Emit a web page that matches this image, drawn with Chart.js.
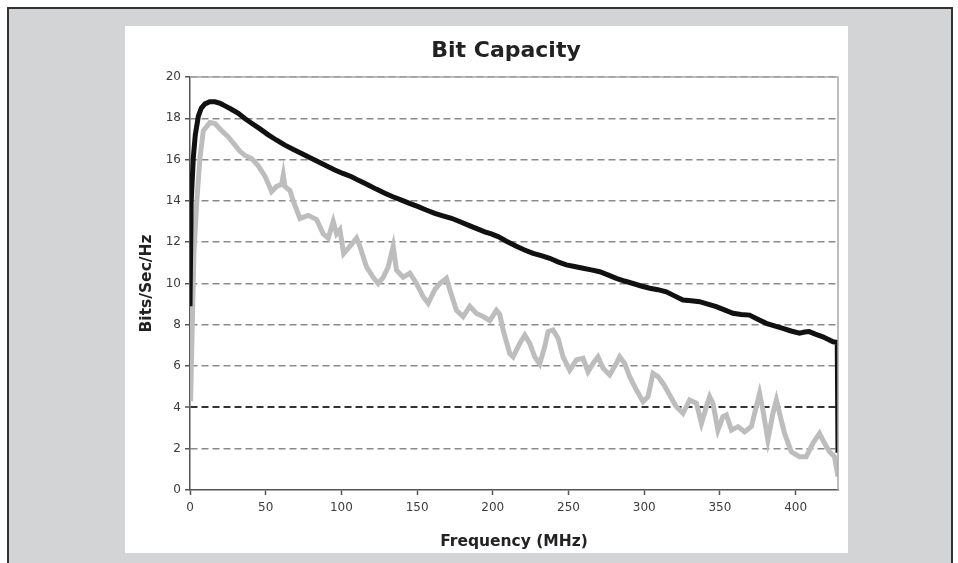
<!DOCTYPE html>
<html>
<head>
<meta charset="utf-8">
<title>Bit Capacity</title>
<script src="https://cdn.jsdelivr.net/npm/chart.js@4.4.0/dist/chart.umd.min.js"></script>
<style>
  html, body { margin: 0; padding: 0; background: #fff; }
  body { width: 958px; height: 563px; position: relative; overflow: hidden; }
  #frame {
    position: absolute; left: 7px; top: 7px; width: 942px; height: 570px;
    background: #d3d4d6; border: 2px solid #333; border-bottom: none;
  }
  #panel { position: absolute; left: 125px; top: 26px; width: 723px; height: 527px; background: #fff; }
  #chart { display: block; }
</style>
</head>
<body>
<div id="frame"></div>
<div id="panel"><canvas id="chart" width="723" height="527"></canvas></div>
<script>
// frequencies in MHz, capacity in bits/sec/Hz
const upperFreq = [0, 0.8, 2.2, 3.5, 5.5, 7.5, 9.9, 13, 16.5, 20, 23.1, 27, 31.9, 36, 40.7, 46, 51.7, 57, 62.7, 68,
  73.7, 79, 84.7, 90, 95.7, 101, 106.7, 112, 117.7, 123, 128.7, 134, 139.7, 145, 150.7, 156, 161.7, 167, 172.7, 178,
  183.7, 189, 194.7, 199, 203.5, 209, 215.6, 221, 226.6, 232, 237.6, 243, 248.6, 254, 259.6, 265, 270.6, 276, 281.6, 287,
  292.6, 298, 303.6, 309, 314.6, 320, 325.6, 331, 336.6, 342, 347.6, 353, 358.6, 364, 369.6, 375, 380.6, 386, 391.6, 397,
  402.6, 406, 409, 413, 418, 422, 424.7, 427.5, 428]
const upperBits = [8.9, 14.0, 16.1, 17.2, 18.1, 18.5, 18.7, 18.8, 18.8, 18.72, 18.6, 18.45, 18.24, 18.0, 17.76, 17.5, 17.2, 16.95, 16.7, 16.5,
  16.3, 16.1, 15.9, 15.7, 15.5, 15.33, 15.17, 14.97, 14.77, 14.57, 14.37, 14.2, 14.04, 13.88, 13.72, 13.56, 13.4, 13.28, 13.16, 13.0,
  12.83, 12.67, 12.5, 12.4, 12.27, 12.05, 11.8, 11.62, 11.46, 11.35, 11.22, 11.05, 10.9, 10.82, 10.74, 10.66, 10.57, 10.42, 10.25, 10.12,
  10.0, 9.88, 9.77, 9.7, 9.6, 9.4, 9.2, 9.16, 9.12, 9.0, 8.88, 8.72, 8.56, 8.5, 8.47, 8.27, 8.07, 7.95, 7.83, 7.7,
  7.59, 7.65, 7.67, 7.55, 7.42, 7.28, 7.18, 7.15, 1.8]

const lowerFreq = [0.4, 1.5, 2.6, 4.4, 6.6, 8.8, 13.2, 16.5, 20.9, 25.3, 29.7, 33, 36.3, 40.7, 45.1, 49.5, 53.9, 57.2, 60.5, 61.6,
  62.7, 66, 68.2, 72.6, 78.1, 83.6, 88, 91.3, 94.6, 96.8, 99, 101.5, 105.6, 110, 112.2, 116.6, 121, 124.3, 127.6, 130.9,
  134.2, 136.4, 140.8, 145.2, 149.6, 154, 157.3, 161.7, 165, 169.4, 171.6, 176, 180.4, 184.8, 189.2, 193.6, 198, 202.4, 204.6, 206.8,
  211.2, 213.4, 217.8, 221.1, 224.4, 227.7, 231, 234.3, 236.5, 239.8, 243.1, 246.4, 250.8, 255.2, 259.6, 262.9, 266.2, 269.5, 272.8, 277.2,
  281.6, 283.8, 287.1, 290.4, 294.9, 299.2, 302.5, 305.8, 309.1, 313, 316.8, 321.2, 325.6, 330, 334.5, 337.8, 341.1, 343.2, 345.4, 348.7,
  352, 354.3, 357.6, 361.9, 366.3, 370.8, 374, 376.2, 378.4, 381.7, 385, 387.3, 389.4, 392.7, 397.2, 402.6, 407, 411.4, 415.8, 419.1,
  422.4, 425.7, 428]
const lowerBits = [4.3, 8, 11.5, 13.9, 16.1, 17.4, 17.8, 17.75, 17.4, 17.1, 16.7, 16.4, 16.2, 16.05, 15.7, 15.2, 14.45, 14.7, 14.8, 15.25,
  14.7, 14.5, 14.0, 13.15, 13.3, 13.1, 12.4, 12.2, 13.0, 12.4, 12.6, 11.45, 11.8, 12.2, 11.8, 10.8, 10.3, 10.0, 10.3, 10.8,
  11.8, 10.65, 10.3, 10.5, 10.0, 9.36, 9.04, 9.7, 10.0, 10.25, 9.7, 8.7, 8.4, 8.9, 8.55, 8.4, 8.2, 8.7, 8.5, 7.75,
  6.6, 6.45, 7.1, 7.5, 7.1, 6.45, 6.1, 6.95, 7.67, 7.75, 7.35, 6.45, 5.8, 6.3, 6.38, 5.73, 6.13, 6.45, 5.9, 5.57,
  6.13, 6.45, 6.13, 5.49, 4.84, 4.28, 4.52, 5.65, 5.49, 5.1, 4.6, 4.03, 3.71, 4.36, 4.2, 3.23, 4.03, 4.52, 4.2, 2.9,
  3.55, 3.63, 2.9, 3.07, 2.82, 3.07, 4.03, 4.68, 3.87, 2.42, 3.71, 4.36, 3.71, 2.74, 1.85, 1.61, 1.61, 2.26, 2.74, 2.26,
  1.85, 1.61, 0.65]

const xTicks = [0, 50, 100, 150, 200, 250, 300, 350, 400]
const xMax = 428
const yMax = 20
const yStep = 2

const toPoints = (xs, ys) => xs.map((x, i) => ({ x: x, y: ys[i] }))

// title + light plot frame (top and right edges)
const framePlugin = {
  id: "frame",
  afterDraw(chart) {
    const { ctx, chartArea } = chart
    ctx.save()
    ctx.strokeStyle = "#a8a8a8"
    ctx.lineWidth = 1.5
    ctx.beginPath()
    ctx.moveTo(chartArea.left, chartArea.top)
    ctx.lineTo(chartArea.right, chartArea.top)
    ctx.lineTo(chartArea.right, chartArea.bottom)
    ctx.stroke()

    ctx.fillStyle = "#222"
    ctx.font = "bold 22px 'DejaVu Sans'"
    ctx.textAlign = "center"
    ctx.textBaseline = "middle"
    ctx.fillText("Bit Capacity", (chartArea.left + chartArea.right) / 2 - 8, 25)
    ctx.restore()
  },
}

const ctx = document.getElementById("chart").getContext("2d")
new Chart(ctx, {
  type: "line",
  data: {
    datasets: [
      {
        label: "Upper",
        data: toPoints(upperFreq, upperBits),
        borderColor: "#111",
        borderWidth: 5,
        pointRadius: 0,
        tension: 0,
      },
      {
        label: "Lower",
        data: toPoints(lowerFreq, lowerBits),
        borderColor: "#bdbdbd",
        borderWidth: 5,
        pointRadius: 0,
        tension: 0,
      },
    ],
  },
  options: {
    responsive: false,
    animation: false,
    layout: { padding: { top: 51, right: 10, left: 0, bottom: 0 } },
    plugins: {
      legend: { display: false },
      tooltip: { enabled: false },
    },
    scales: {
      x: {
        type: "linear",
        min: 0,
        max: xMax,
        afterBuildTicks: (scale) => {
          scale.ticks = xTicks.map((v) => ({ value: v }))
        },
        afterFit: (scale) => {
          scale.height = 63
        },
        grid: { drawOnChartArea: false, drawTicks: true, tickLength: 5, tickColor: "#555", tickWidth: 1.5 },
        border: { color: "#555", width: 1.5 },
        ticks: { color: "#3c3c3c", padding: 6, maxRotation: 0, font: { family: "DejaVu Sans", size: 12 } },
        title: {
          display: true,
          text: "Frequency (MHz)",
          color: "#222",
          font: { family: "DejaVu Sans", size: 15.5, weight: "bold", lineHeight: 1.2 },
          padding: { top: 0, bottom: 2 },
        },
      },
      y: {
        min: 0,
        max: yMax,
        afterFit: (scale) => {
          scale.width = 65
        },
        grid: {
          color: (c) => (c.tick && c.tick.value === 4 ? "#333" : c.tick && c.tick.value === 0 ? "rgba(0,0,0,0)" : "#8a8a8a"),
          lineWidth: (c) => (c.tick && c.tick.value === 4 ? 2 : 1.5),
          tickLength: 5,
          tickColor: "#555",
          tickWidth: 1.5,
        },
        border: { color: "#555", width: 1.5, dash: [7, 4] },
        ticks: { stepSize: yStep, color: "#3c3c3c", padding: 4, font: { family: "DejaVu Sans", size: 12 } },
        title: {
          display: true,
          text: "Bits/Sec/Hz",
          color: "#222",
          font: { family: "DejaVu Sans", size: 15.5, weight: "bold", lineHeight: 1.2 },
          padding: { top: 13, bottom: 0 },
        },
      },
    },
  },
  plugins: [framePlugin],
})
</script>
</body>
</html>
